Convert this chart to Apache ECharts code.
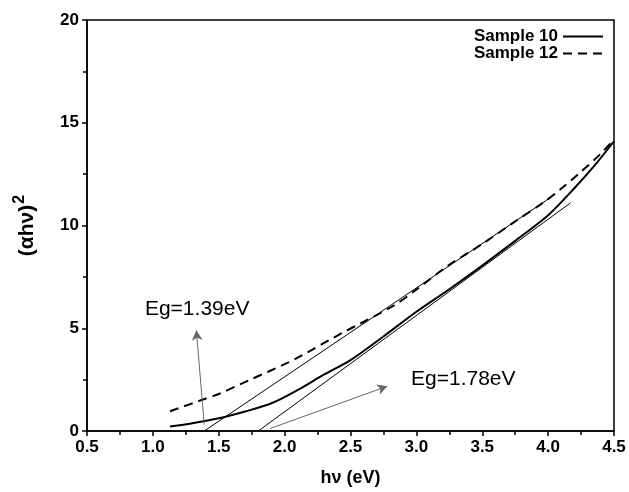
<!DOCTYPE html>
<html>
<head>
<meta charset="utf-8">
<script src="https://cdn.jsdelivr.net/npm/echarts@6/dist/echarts.min.js"></script>
<style>
  html, body { margin: 0; padding: 0; background: #fff; }
  #chart { width: 629px; height: 492px; }
</style>
</head>
<body>
<div id="chart"></div>
<script>
// values
const sample10X = [1.13, 1.3, 1.5, 1.7, 1.9, 2.1, 2.3, 2.5, 2.75, 3.0, 3.25, 3.5, 3.75, 4.0, 4.19, 4.35, 4.5];
const sample10Y = [0.22, 0.38, 0.62, 0.95, 1.35, 2.0, 2.75, 3.45, 4.6, 5.8, 6.9, 8.05, 9.25, 10.5, 11.75, 12.9, 14.1];
const sample12X = [1.13, 1.38, 1.5, 1.74, 2.0, 2.12, 2.44, 2.82, 3.0, 3.23, 3.5, 3.75, 3.96, 4.1, 4.24, 4.4, 4.5];
const sample12Y = [0.96, 1.53, 1.8, 2.5, 3.25, 3.64, 4.78, 6.07, 6.88, 8.0, 9.1, 10.2, 11.1, 11.8, 12.56, 13.5, 14.2];
const tangent12 = [[1.39, 0], [4.05, 11.5]];
const tangent10 = [[1.8, 0], [4.17, 11.1]];
const arrow12 = [[1.39, 0.3], [1.33, 4.9]];
const arrow10 = [[1.89, 0.12], [2.78, 2.18]];
const labels = [
  { name: 'Eg=1.39eV', value: [1.34, 5.9] },
  { name: 'Eg=1.78eV', value: [3.36, 2.5] }
];

const zip = (xs, ys) => xs.map((x, i) => [x, ys[i]]);

const chart = echarts.init(document.getElementById('chart'));
chart.setOption({
  animation: false,
  grid: { left: 87, right: 15, top: 20, bottom: 60, show: true, borderColor: '#000', borderWidth: 1.5 },
  legend: {
    right: 20, top: 23, orient: 'vertical', align: 'right',
    itemWidth: 40, itemHeight: 10, itemGap: 0,
    itemStyle: { opacity: 0 },
    textStyle: { fontFamily: 'Liberation Sans', fontWeight: 'bold', fontSize: 17, color: '#000' },
    data: ['Sample 10', 'Sample 12']
  },
  xAxis: {
    type: 'value', min: 0.5, max: 4.5, interval: 0.5,
    name: 'h\u03bd (eV)', nameLocation: 'middle', nameGap: 38,
    nameTextStyle: { fontFamily: 'Liberation Sans', fontWeight: 'bold', fontSize: 18, color: '#000' },
    axisLine: { lineStyle: { color: '#000', width: 1.5 } },
    axisTick: { inside: false, length: 5, lineStyle: { color: '#000', width: 1.5 } },
    minorTick: { show: true, splitNumber: 2, length: 4, lineStyle: { color: '#000', width: 1.5 } },
    splitLine: { show: false },
    axisLabel: { margin: 8, fontFamily: 'Liberation Sans', fontWeight: 'bold', fontSize: 17, color: '#000',
      formatter: v => v.toFixed(1) }
  },
  yAxis: {
    type: 'value', min: 0, max: 20, interval: 5,
    name: '{t|(\u03b1h\u03bd)}{s|2}', nameLocation: 'middle', nameGap: 45,
    nameTextStyle: {
      rich: {
        t: { fontFamily: 'Liberation Sans', fontWeight: 'bold', fontSize: 21, color: '#000' },
        s: { fontFamily: 'Liberation Sans', fontWeight: 'bold', fontSize: 16, color: '#000', padding: [0, 0, 14, 1] }
      }
    },
    axisLine: { show: true, lineStyle: { color: '#000', width: 1.5 } },
    axisTick: { show: true, inside: false, length: 5, lineStyle: { color: '#000', width: 1.5 } },
    minorTick: { show: true, splitNumber: 2, length: 4, lineStyle: { color: '#000', width: 1.5 } },
    splitLine: { show: false },
    axisLabel: { margin: 8, fontFamily: 'Liberation Sans', fontWeight: 'bold', fontSize: 17, color: '#000' }
  },
  series: [
    {
      name: 'Sample 10', type: 'line', symbol: 'none', smooth: 0.3,
      data: zip(sample10X, sample10Y),
      lineStyle: { color: '#000', width: 2 }, itemStyle: { color: '#000' }
    },
    {
      name: 'Sample 12', type: 'line', symbol: 'none', smooth: 0.3,
      data: zip(sample12X, sample12Y),
      lineStyle: { color: '#000', width: 2, type: [9, 6] }, itemStyle: { color: '#000' }
    },
    {
      name: 'tan12', type: 'line', symbol: 'none', data: tangent12,
      lineStyle: { color: '#000', width: 1 }
    },
    {
      name: 'tan10', type: 'line', symbol: 'none', data: tangent10,
      lineStyle: { color: '#000', width: 1 }
    },
    {
      name: 'arrows', type: 'line', data: [],
      markLine: {
        silent: true, symbol: ['none', 'arrow'], symbolSize: [8, 10],
        label: { show: false },
        lineStyle: { color: '#666', width: 1, type: 'solid' },
        data: [
          [{ coord: arrow12[0] }, { coord: arrow12[1] }],
          [{ coord: arrow10[0] }, { coord: arrow10[1] }]
        ]
      }
    },
    {
      name: 'labels', type: 'scatter', symbolSize: 1, data: labels,
      itemStyle: { color: '#fff', opacity: 0 },
      label: { show: true, position: [0, 0], align: 'center', verticalAlign: 'middle',
        formatter: p => p.name,
        fontFamily: 'Liberation Sans', fontSize: 21, color: '#000', opacity: 1 }
    }
  ]
});
</script>
</body>
</html>
